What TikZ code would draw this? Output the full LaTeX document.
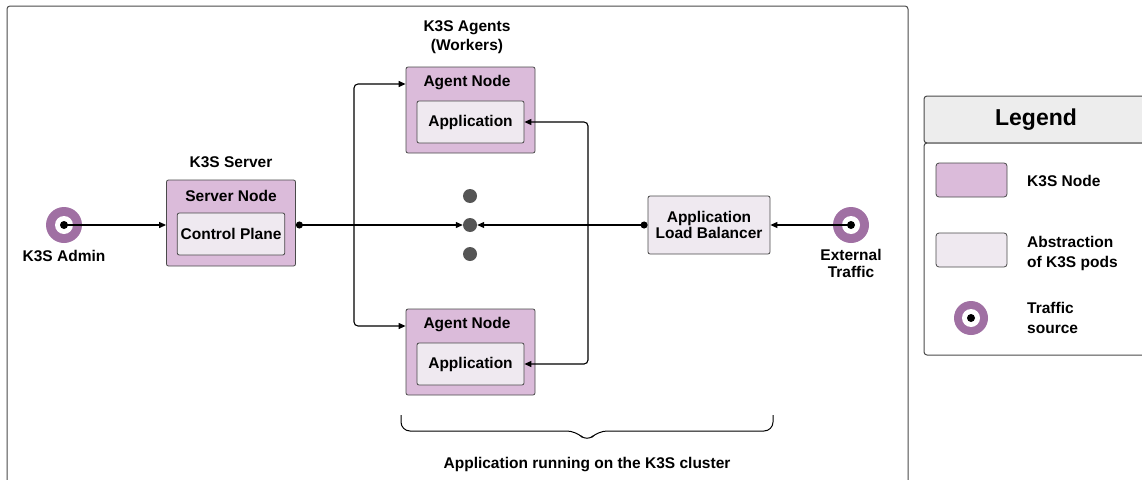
\documentclass[tikz,border=0pt]{standalone}
\usepackage{fontspec}
\setmainfont{Liberation Sans}
\usetikzlibrary{arrows.meta,positioning,calc}
\definecolor{k3spurple}{HTML}{DBBBDA}
\definecolor{podfill}{HTML}{EFE9F0}
\definecolor{ringcol}{HTML}{A070A3}
\definecolor{edgegray}{HTML}{4A4A4A}
\definecolor{dotgray}{HTML}{555555}
\definecolor{legendhead}{HTML}{EDEDED}

\begin{document}
\begin{tikzpicture}[x=1pt, y=-1pt,
  k3snode/.style={draw=edgegray, fill=k3spurple, rounded corners=2pt,
    minimum width=129pt, minimum height=86pt, line width=0.8pt},
  podbox/.style={draw=edgegray, fill=podfill, rounded corners=2pt,
    minimum width=107pt, minimum height=42pt, line width=0.8pt,
    font=\fontsize{15.5}{17}\selectfont\bfseries, align=center},
  title/.style={font=\fontsize{15.5}{17}\selectfont\bfseries, align=center, inner sep=0pt},
  source/.style={circle, fill=ringcol, minimum size=36pt, inner sep=0pt,
    path picture={\fill[white] (path picture bounding box.center) circle (9pt);
      \fill[black] (path picture bounding box.center) circle (4pt);}},
  arrow/.style={-{Triangle[length=7pt,width=6pt]}, line width=1.1pt},
  darrow/.style={{Circle[length=7pt]}-{Triangle[length=7pt,width=6pt]}, line width=1.1pt},
  gdot/.style={circle, fill=dotgray, minimum size=14pt, inner sep=0pt}
]
\useasboundingbox (0,0) rectangle (1142,479);

% cluster frame
\draw[edgegray, line width=1pt, rounded corners=3pt] (7,500) -- (7,6) -- (908,6) -- (908,500);

% traffic sources
\node[source] (admin) at (64,225) {};
\node[title, below=7pt of admin] (adminlbl) {K3S Admin};
\node[source] (ext) at (851,225) {};
\node[title, below=6pt of ext] (extlbl) {External\\[0pt]Traffic};

% server
\node[title] (srvlbl) at (231,162) {K3S Server};
\node[k3snode] (srv) at (231,223) {};
\node[title] (srvtitle) at (231,196) {Server Node};
\node[podbox] (cp) at (231,234) {Control Plane};

% agents
\node[title] (agtlbl) at (467,37) {K3S Agents\\[2pt](Workers)};
\node[k3snode] (agt1) at (470.5,110) {};
\node[title] (agt1title) at (467,83) {Agent Node};
\node[podbox] (app1) at (470.5,122) {Application};
\node[k3snode] (agt2) at (470.5,352) {};
\node[title] (agt2title) at (467,325) {Agent Node};
\node[podbox] (app2) at (470.5,364) {Application};

% more agents
\node[gdot] (dot1) at (470,196) {};
\node[gdot] (dot2) at (470,225) {};
\node[gdot] (dot3) at (470,254) {};

% load balancer
\node[podbox, minimum width=122pt, minimum height=58pt, inner sep=1pt] (alb) at (709,225) {Application\\[-1pt]Load Balancer};

\coordinate (splitL) at (354,225);
\coordinate (splitR) at (588,225);

\draw[arrow] (admin.center) -- (srv.west |- admin);
\draw[darrow] (srv.east |- dot2) -- (dot2.west);
\draw[arrow, rounded corners=4pt] (splitL) |- (agt1.west |- 0,84);
\draw[arrow, rounded corners=4pt] (splitL) |- (agt2.west |- 0,326);
\draw[arrow] (ext.center) -- (alb.east);
\draw[darrow] (alb.west) -- (dot2.east);
\draw[arrow, rounded corners=4pt] (splitR) |- (app1.east);
\draw[arrow, rounded corners=4pt] (splitR) |- (app2.east);

% brace
\draw[line width=1pt, rounded corners=9pt] (401,415) -- (401,431) -- (576,431) -- (587,442) -- (598,431) -- (773,431) -- (773,415);
\node[title] (clusterlbl) at (587,465) {Application running on the K3S cluster};

% legend
\draw[edgegray, fill=legendhead, line width=1pt, rounded corners=3pt] (924,143) -- (924,96) -- (1160,96) -- (1160,143) -- cycle;
\draw[edgegray, fill=white, line width=1pt, rounded corners=3pt] (924,143) -- (924,355) -- (1160,355) -- (1160,143) -- cycle;
\node[font=\fontsize{23}{26}\selectfont\bfseries] (legtitle) at (1036,120) {Legend};
\node[draw=edgegray, fill=k3spurple, rounded corners=3pt, minimum width=71pt, minimum height=34pt, line width=0.8pt] (leg1) at (971.5,180) {};
\node[title, anchor=west] (leg1lbl) at (1027,181) {K3S Node};
\node[draw=edgegray, fill=podfill, rounded corners=3pt, minimum width=71pt, minimum height=34pt, line width=0.8pt] (leg2) at (971.5,250) {};
\node[title, anchor=west, align=left] (leg2lbl) at (1027,253) {Abstraction\\[3pt]of K3S pods};
\node[source, minimum size=34pt] (leg3) at (971,318) {};
\node[title, anchor=west, align=left] (leg3lbl) at (1027,318) {Traffic\\[3pt]source};
\end{tikzpicture}
\end{document}
